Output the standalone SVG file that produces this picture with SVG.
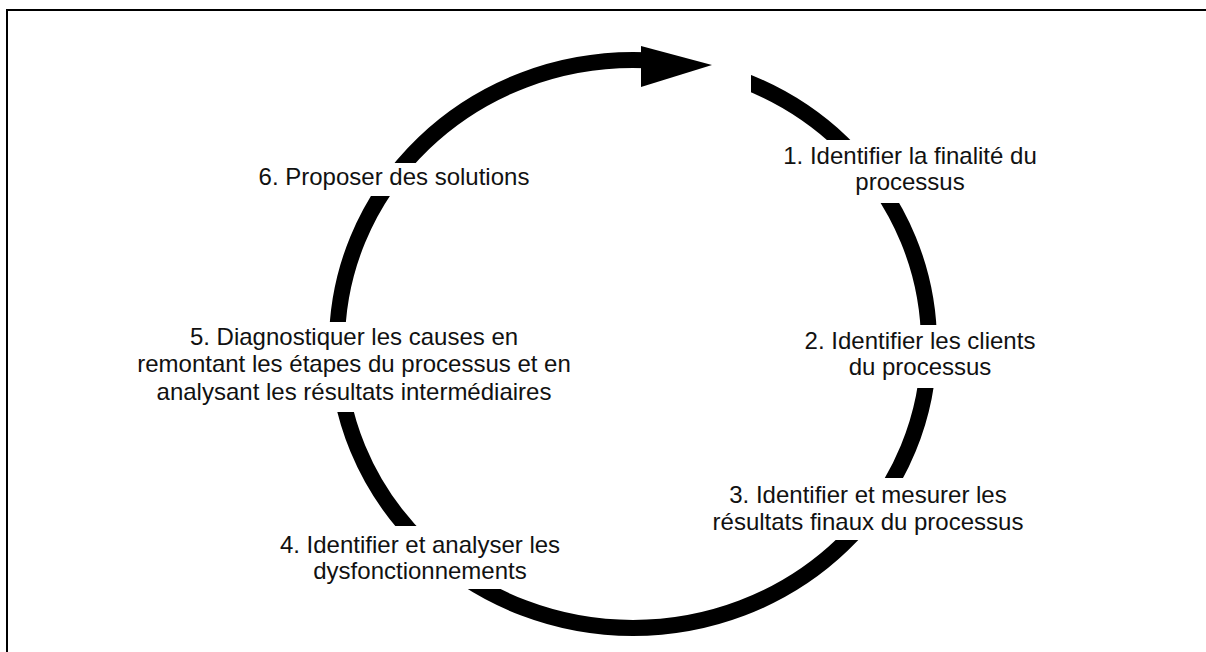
<svg xmlns="http://www.w3.org/2000/svg" width="1206" height="652" viewBox="0 0 1206 652">
<style>
  .lbl { font-family: "Liberation Sans", Arial, sans-serif; font-size: 24px; fill: #111; text-anchor: middle; }
  .bg { fill: #fff; stroke: none; }
</style>
<rect x="0" y="0" width="1206" height="652" fill="#fff"/>
<path d="M7 652 V10 H1206" fill="none" stroke="#000" stroke-width="2"/>
<g id="connectors">
  <ellipse cx="633" cy="344" rx="296" ry="284" fill="none" stroke="#000" stroke-width="16"/>
  <rect class="bg" x="641" y="36" width="110" height="70"/>
  <polygon points="641,46 641,87 712,65" fill="#000"/>
</g>
<g id="step1">
  <rect class="bg" x="780" y="140" width="262" height="63"/>
  <text class="lbl" x="910" y="164">1. Identifier la finalité du</text>
  <text class="lbl" x="910" y="190">processus</text>
</g>
<g id="step2">
  <rect class="bg" x="798" y="325" width="244" height="63"/>
  <text class="lbl" x="920" y="349">2. Identifier les clients</text>
  <text class="lbl" x="920" y="375">du processus</text>
</g>
<g id="step3">
  <rect class="bg" x="704" y="478" width="326" height="62"/>
  <text class="lbl" x="868" y="503">3. Identifier et mesurer les</text>
  <text class="lbl" x="868" y="530">résultats finaux du processus</text>
</g>
<g id="step4">
  <rect class="bg" x="270" y="526" width="300" height="63"/>
  <text class="lbl" x="420" y="553">4. Identifier et analyser les</text>
  <text class="lbl" x="420" y="579">dysfonctionnements</text>
</g>
<g id="step5">
  <rect class="bg" x="148" y="322" width="414" height="90"/>
  <text class="lbl" x="354" y="345">5. Diagnostiquer les causes en</text>
  <text class="lbl" x="354" y="372">remontant les étapes du processus et en</text>
  <text class="lbl" x="354" y="400">analysant les résultats intermédiaires</text>
</g>
<g id="step6">
  <rect class="bg" x="250" y="163" width="288" height="33"/>
  <text class="lbl" x="394" y="185">6. Proposer des solutions</text>
</g>
</svg>
